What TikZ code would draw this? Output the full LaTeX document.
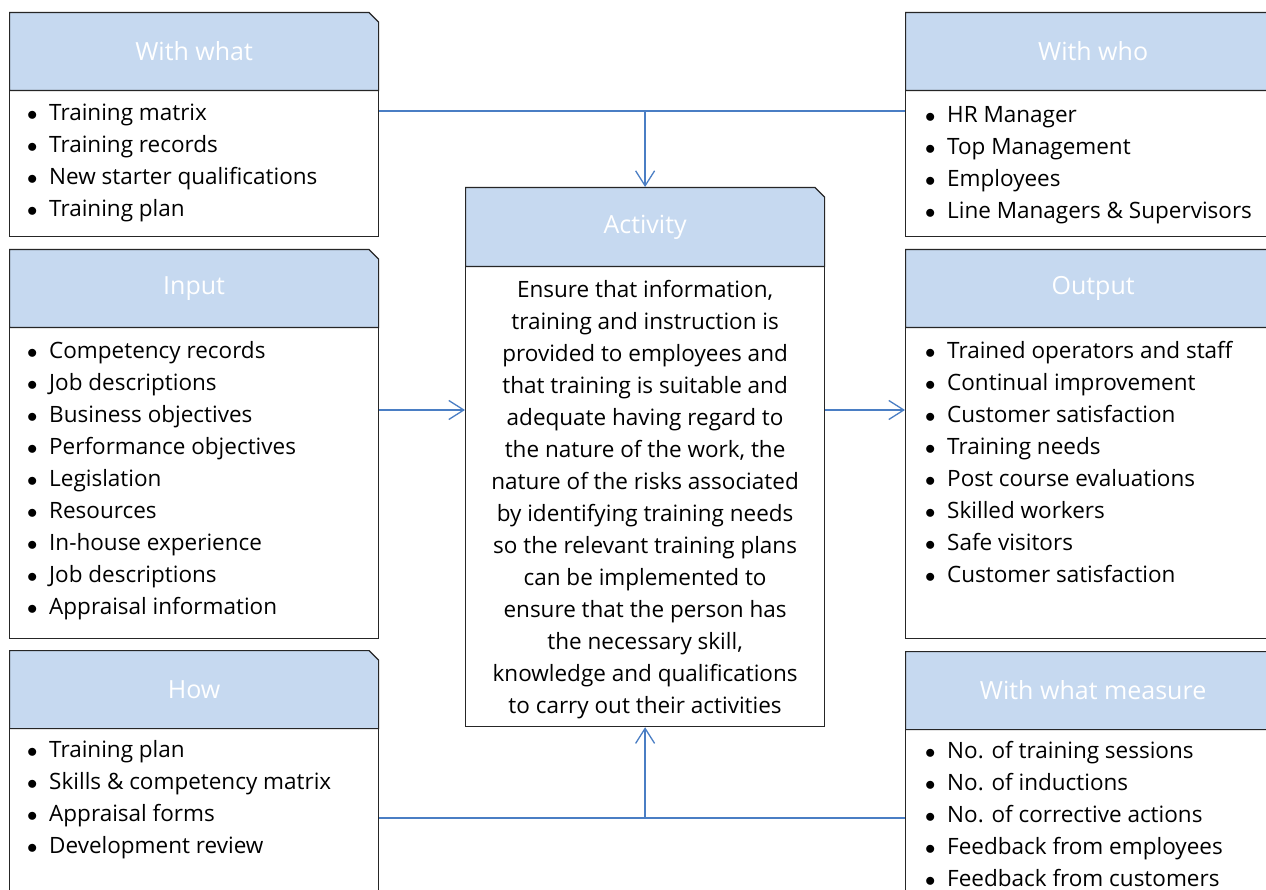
\documentclass[tikz,border=0pt]{standalone}
\usepackage{fontspec}
\setmainfont{Open Sans}
\usepackage{xcolor}
\usepackage{tikz}
\usetikzlibrary{positioning,arrows.meta,shapes.misc}

\definecolor{headblue}{RGB}{198,217,240}
\definecolor{linkblue}{RGB}{74,126,196}
\newcommand{\itm}{\strut\makebox[22pt][l]{$\bullet$}}

\tikzset{
  panel/.style={chamfered rectangle, chamfered rectangle corners=north east,
    chamfered rectangle xsep=5pt, chamfered rectangle ysep=4.5pt,
    draw=black!85, line width=1.2pt, inner sep=0pt, anchor=north west},
  headbox/.style={panel, fill=headblue, text=white, minimum height=78pt,
    font=\fontsize{25}{32}\selectfont},
  bodybox/.style={panel, fill=white},
  itemlist/.style={align=left, inner sep=0pt, anchor=north west},
  link/.style={draw=linkblue, line width=1.3pt},
  linkarrow/.style={link, -{Straight Barb[length=15pt,width=19pt]}}
}

\begin{document}
\begin{tikzpicture}[x=1pt, y=-1pt, font=\fontsize{22.5}{32}\selectfont]
\fill[white] (0,0) rectangle (1266,890);
\path[use as bounding box, clip] (0,0) rectangle (1266,890);

% Left column
\node[bodybox, minimum width=369pt, minimum height=146pt] (whatbody) at (9,90) {};
\node[headbox, minimum width=369pt] (whathead) at (9,12) {With what};
\node[itemlist, below right=7.6pt and 18pt of whatbody.north west] (whatlist)
  {\itm Training matrix\\ \itm Training records\\ \itm New starter qualifications\\ \itm Training plan};

\node[bodybox, minimum width=369pt, minimum height=311pt] (inbody) at (9,327) {};
\node[headbox, minimum width=369pt] (inhead) at (9,249) {Input};
\node[itemlist, below right=8.6pt and 18pt of inbody.north west] (inlist)
  {\itm Competency records\\ \itm Job descriptions\\ \itm Business objectives\\
   \itm Performance objectives\\ \itm Legislation\\ \itm Resources\\
   \itm In-house experience\\ \itm Job descriptions\\ \itm Appraisal information};

\node[bodybox, minimum width=369pt, minimum height=200pt] (howbody) at (9,728) {};
\node[headbox, minimum width=369pt] (howhead) at (9,650) {How};
\node[itemlist, below right=6.6pt and 18pt of howbody.north west] (howlist)
  {\itm Training plan\\ \itm Skills \& competency matrix\\ \itm Appraisal forms\\ \itm Development review};

% Centre
\node[bodybox, minimum width=359pt, minimum height=460pt] (actbody) at (465,266) {};
\node[headbox, minimum width=359pt, minimum height=79pt] (acthead) at (465,187) {Activity};
\node[align=center, inner sep=0pt, anchor=north, below=8.6pt of actbody.north] (acttext)
  {\strut Ensure that information,\\ training and instruction is\\ provided to employees and\\
   that training is suitable and\\ adequate having regard to\\ the nature of the work, the\\
   nature of the risks associated\\ by identifying training needs\\ so the relevant training plans\\
   can be implemented to\\ ensure that the person has\\ the necessary skill,\\
   knowledge and qualifications\\ to carry out their activities};

% Right column
\node[bodybox, minimum width=375pt, minimum height=146pt] (whobody) at (905,90) {};
\node[headbox, minimum width=375pt] (whohead) at (905,12) {With who};
\node[itemlist, below right=9.6pt and 20pt of whobody.north west] (wholist)
  {\itm HR Manager\\ \itm Top Management\\ \itm Employees\\ \itm Line Managers \& Supervisors};

\node[bodybox, minimum width=375pt, minimum height=311pt] (outbody) at (905,327) {};
\node[headbox, minimum width=375pt] (outhead) at (905,249) {Output};
\node[itemlist, below right=8.6pt and 20pt of outbody.north west] (outlist)
  {\itm Trained operators and staff\\ \itm Continual improvement\\ \itm Customer satisfaction\\
   \itm Training needs\\ \itm Post course evaluations\\ \itm Skilled workers\\
   \itm Safe visitors\\ \itm Customer satisfaction};

\node[bodybox, minimum width=375pt, minimum height=200pt] (measbody) at (905,729) {};
\node[headbox, minimum width=375pt] (meashead) at (905,651) {With what measure};
\node[itemlist, below right=6.6pt and 20pt of measbody.north west] (measlist)
  {\itm No. of training sessions\\ \itm No. of inductions\\ \itm No. of corrective actions\\
   \itm Feedback from employees\\ \itm Feedback from customers};

% Links
\coordinate (topjoin) at (acthead.north |- 0,111);
\draw[link] (whatbody.east |- topjoin) -- (whobody.west |- topjoin);
\draw[linkarrow] (topjoin) -- (acthead.north);
\coordinate (midrow) at (0,410);
\draw[linkarrow] (inbody.east |- midrow) -- (actbody.west |- midrow);
\draw[linkarrow] (actbody.east |- midrow) -- (outbody.west |- midrow);
\coordinate (botjoin) at (actbody.south |- 0,818);
\draw[link] (howbody.east |- botjoin) -- (measbody.west |- botjoin);
\draw[linkarrow] (botjoin) -- (actbody.south);
\end{tikzpicture}
\end{document}
